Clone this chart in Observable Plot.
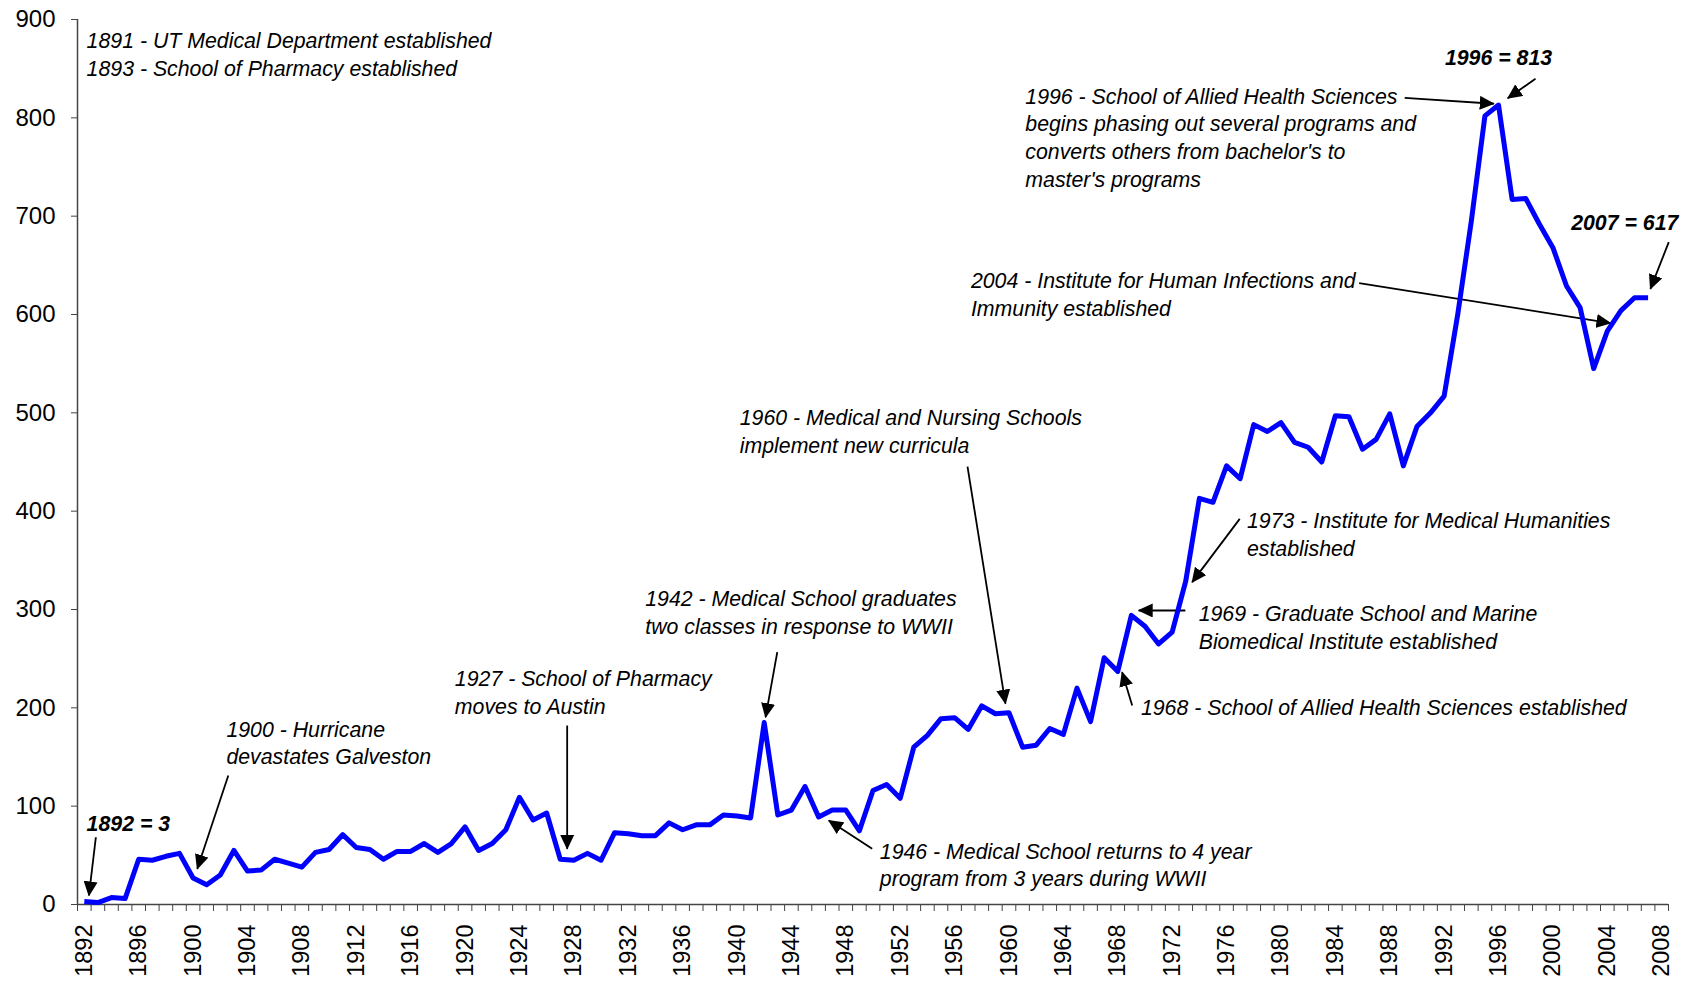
<!DOCTYPE html>
<html>
<head>
<meta charset="utf-8">
<script src="https://cdn.jsdelivr.net/npm/d3@7"></script>
<script src="https://cdn.jsdelivr.net/npm/@observablehq/plot@0.6"></script>
<style>
  html, body { margin: 0; padding: 0; background: #ffffff; overflow: hidden; }
  #chart svg { display: block; }
</style>
</head>
<body>
<div id="chart"></div>
<script>
// ---- Data ----
const years = d3.range(1892, 2008);
const graduates = [
  3, 2, 7, 6, 46, 45, 49, 52,                 // 1892-1899
  27, 20, 30, 55, 34, 35, 46, 42, 38, 53,     // 1900-1909
  56, 71, 58, 56, 46, 54, 54, 62, 53, 62,     // 1910-1919
  79, 55, 62, 76, 109, 86, 93, 46, 45, 52,    // 1920-1929
  45, 73, 72, 70, 70, 83, 76, 81, 81, 91,     // 1930-1939
  90, 88, 185, 91, 96, 120, 89, 96, 96, 75,   // 1940-1949
  116, 122, 108, 160, 172, 189, 190, 178, 202, 194, // 1950-1959
  195, 160, 162, 179, 173, 220, 186, 251, 237, 294, // 1960-1969
  283, 265, 277, 329, 413, 409, 446, 433, 488, 481, // 1970-1979
  490, 470, 465, 450, 497, 496, 463, 473, 499, 446, // 1980-1989
  486, 500, 517, 600, 695, 802, 813, 717, 718, 692, // 1990-1999
  668, 629, 607, 545, 583, 604, 617, 617            // 2000-2007
];
const yTicks = [0, 100, 200, 300, 400, 500, 600, 700, 800, 900];
const xLabelYears = d3.range(1892, 2009, 4);
const xCategoryEdges = d3.range(1891.5, 2009, 1);

// ---- Annotations (data coordinates) ----
const notes = [
  {x: 1892.17, y: 865.8, text: "1891 - UT Medical Department established\n1893 - School of Pharmacy established"},
  {x: 1902.45, y: 165.5, text: "1900 - Hurricane\ndevastates Galveston"},
  {x: 1919.25, y: 216.8, text: "1927 - School of Pharmacy\nmoves to Austin"},
  {x: 1933.25, y: 298.5, text: "1942 - Medical School graduates\ntwo classes in response to WWII"},
  {x: 1950.5,  y: 41.4,  text: "1946 - Medical School returns to 4 year\nprogram from 3 years during WWII"},
  {x: 1940.2,  y: 482.5, text: "1960 - Medical and Nursing Schools\nimplement new curricula"},
  {x: 1969.7,  y: 202.0, text: "1968 - School of Allied Health Sciences established"},
  {x: 1973.95, y: 283.2, text: "1969 - Graduate School and Marine\nBiomedical Institute established"},
  {x: 1977.5,  y: 378.0, text: "1973 - Institute for Medical Humanities\nestablished"},
  {x: 1957.2,  y: 622.0, text: "2004 - Institute for Human Infections and\nImmunity established"},
  {x: 1961.2,  y: 781.2, text: "1996 - School of Allied Health Sciences\nbegins phasing out several programs and\nconverts others from bachelor's to\nmaster's programs"}
];
const valueLabelsStart = [
  {x: 1892.17, y: 81.3,  text: "1892 = 3"},
  {x: 2001.34, y: 693.2, text: "2007 = 617"}
];
const valueLabelsMiddle = [
  {x: 1996.0, y: 861.1, text: "1996 = 813"}
];
const arrows = [
  {x1: 1892.85, y1: 68.4,  x2: 1892.34, y2: 9.2},
  {x1: 1902.59, y1: 131.2, x2: 1900.31, y2: 36.3},
  {x1: 1927.51, y1: 182.0, x2: 1927.51, y2: 56.6},
  {x1: 1942.96, y1: 256.6, x2: 1942.10, y2: 190.5},
  {x1: 1949.94, y1: 56.6,  x2: 1946.75, y2: 85.4},
  {x1: 1956.95, y1: 445.4, x2: 1959.74, y2: 204.3},
  {x1: 1969.06, y1: 202.4, x2: 1968.32, y2: 236.2},
  {x1: 1972.97, y1: 299.0, x2: 1969.54, y2: 299.0},
  {x1: 1976.97, y1: 392.2, x2: 1973.47, y2: 327.8},
  {x1: 1985.75, y1: 631.9, x2: 2004.23, y2: 591.2},
  {x1: 1989.1,  y1: 820.2, x2: 1995.65, y2: 814.3},
  {x1: 1998.72, y1: 839.7, x2: 1996.68, y2: 820.0},
  {x1: 2008.52, y1: 673.6, x2: 2007.17, y2: 626.1}
];

// filled triangular arrowhead
function filledArrow(color, context) {
  const doc = (context && context.document) || document;
  const ns = "http://www.w3.org/2000/svg";
  const m = doc.createElementNS(ns, "marker");
  m.setAttribute("viewBox", "0 -7 15 14");
  m.setAttribute("markerUnits", "userSpaceOnUse");
  m.setAttribute("markerWidth", "15");
  m.setAttribute("markerHeight", "14");
  m.setAttribute("refX", "14");
  m.setAttribute("refY", "0");
  m.setAttribute("orient", "auto");
  const p = doc.createElementNS(ns, "path");
  p.setAttribute("d", "M0,-7L15,0L0,7Z");
  p.setAttribute("fill", "#000");
  p.setAttribute("stroke", "none");
  m.appendChild(p);
  return m;
}

const FONT = "'Liberation Sans', Arial, Helvetica, sans-serif";
const NOTE_SIZE = 21.3;
const data = years.map((yr, i) => ({year: yr, value: graduates[i]}));

const chart = Plot.plot({
  width: 1692,
  height: 983,
  marginLeft: 77,
  marginRight: 24,
  marginTop: 19,
  marginBottom: 79,
  style: {fontFamily: FONT, background: "#ffffff", color: "#000"},
  x: {type: "linear", domain: [1891.5, 2008.5]},
  y: {type: "linear", domain: [0, 900]},
  marks: [
    // axis lines
    Plot.ruleY([0], {stroke: "#444", strokeWidth: 1.5}),
    Plot.ruleX([1891.5], {y1: 0, y2: 900, stroke: "#444", strokeWidth: 1.5}),
    // y axis
    Plot.axisY({ticks: yTicks, tickSize: 6, tickPadding: 16, fontSize: 24, label: null, stroke: "#444", tickFormat: d => String(d)}),
    // x axis: category edge ticks
    Plot.axisX({ticks: xCategoryEdges, tickSize: 7, tickFormat: () => "", label: null, stroke: "#444"}),
    // x axis: rotated year labels
    Plot.axisX({ticks: xLabelYears, tickSize: 0, tickPadding: 20, tickRotate: -90, fontSize: 23.5, label: null, tickFormat: d => String(d)}),
    // arrows
    Plot.link(arrows, {x1: "x1", y1: "y1", x2: "x2", y2: "y2", stroke: "#000", strokeWidth: 1.8, markerEnd: filledArrow}),
    // series line
    Plot.line(data, {x: "year", y: "value", stroke: "#0000FF", strokeWidth: 5, strokeLinejoin: "round", strokeLinecap: "butt"}),
    // annotations
    Plot.text(notes, {x: "x", y: "y", text: "text", textAnchor: "start", lineAnchor: "middle", fontSize: NOTE_SIZE, fontStyle: "italic", lineHeight: 1.3, fill: "#000", fontFamily: FONT}),
    Plot.text(valueLabelsStart, {x: "x", y: "y", text: "text", textAnchor: "start", fontSize: NOTE_SIZE, fontStyle: "italic", fontWeight: "bold", fill: "#000", fontFamily: FONT}),
    Plot.text(valueLabelsMiddle, {x: "x", y: "y", text: "text", textAnchor: "middle", fontSize: NOTE_SIZE, fontStyle: "italic", fontWeight: "bold", fill: "#000", fontFamily: FONT})
  ]
});

document.getElementById("chart").appendChild(chart);
</script>
</body>
</html>
